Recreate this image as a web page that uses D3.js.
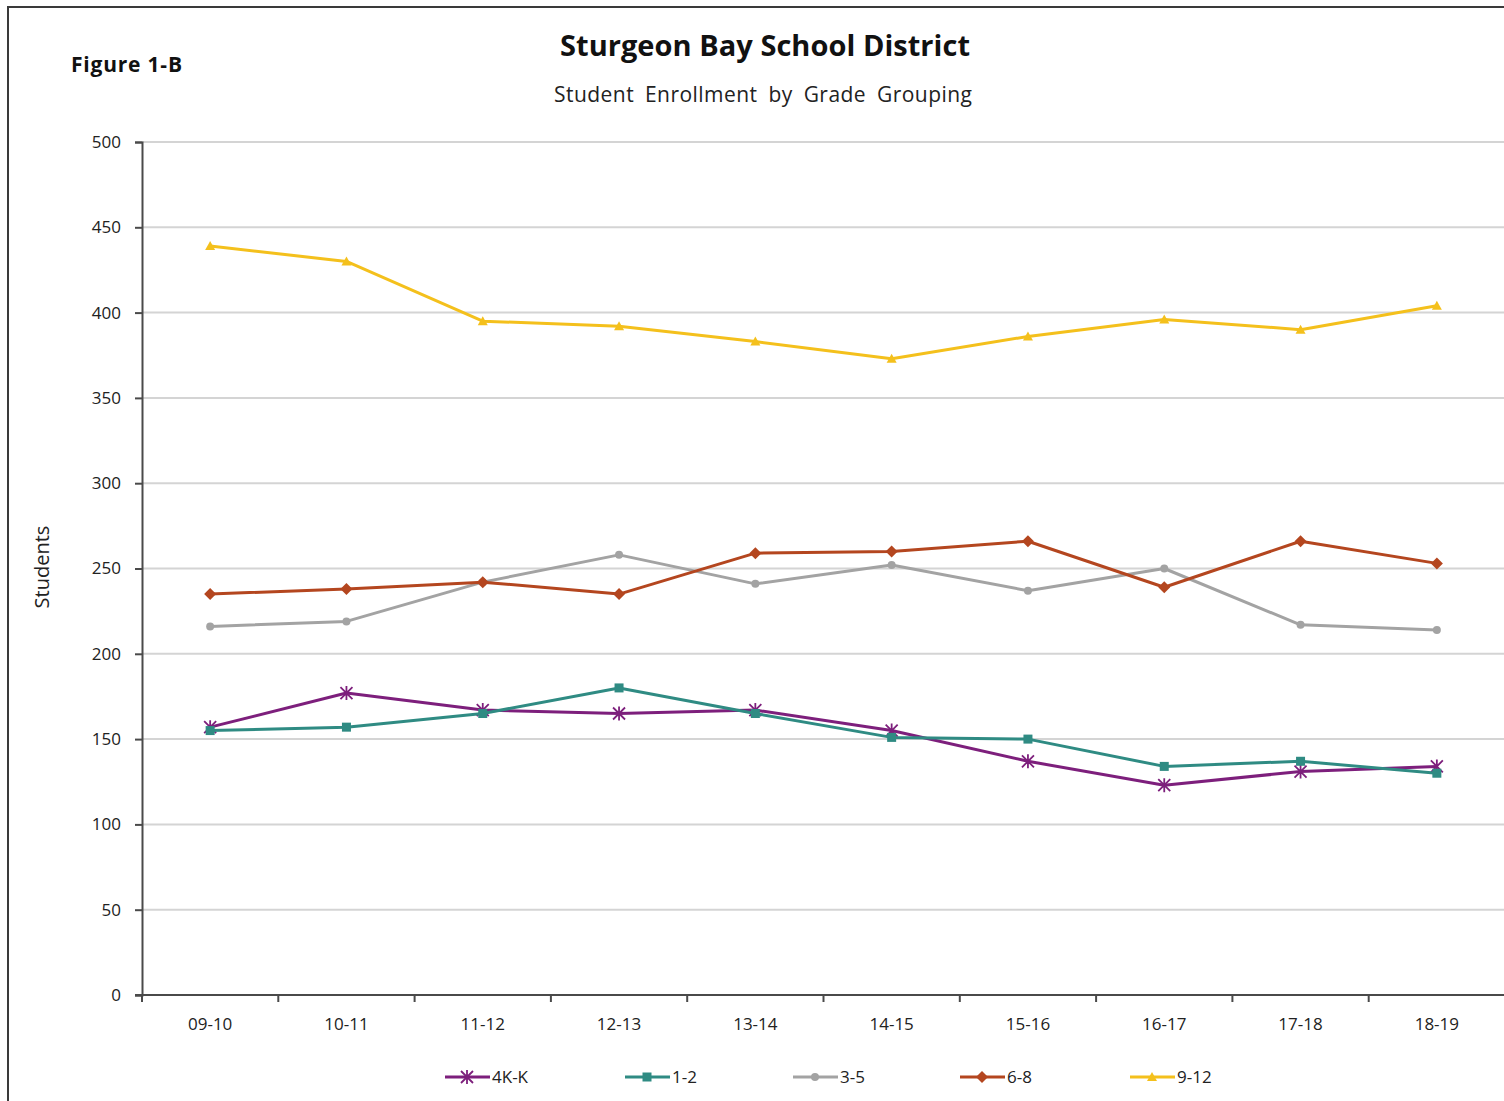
<!DOCTYPE html>
<html>
<head>
  <meta charset="utf-8" />
  <script src="https://d3js.org/d3.v7.min.js"></script>
  <style>
    body { margin: 0; background: #fff; font-family: "Open Sans", "Noto Sans", sans-serif; }
    svg { display: block; }
  </style>
</head>
<body>
  <script>
    var years = ["09-10", "10-11", "11-12", "12-13", "13-14", "14-15", "15-16", "16-17", "17-18", "18-19"];
    var yTicks = [0, 50, 100, 150, 200, 250, 300, 350, 400, 450, 500];

    var grade4KK = [157, 177, 167, 165, 167, 155, 137, 123, 131, 134];
    var grade1to2 = [155, 157, 165, 180, 165, 151, 150, 134, 137, 130];
    var grade3to5 = [216, 219, 242, 258, 241, 252, 237, 250, 217, 214];
    var grade6to8 = [235, 238, 242, 235, 259, 260, 266, 239, 266, 253];
    var grade9to12 = [439, 430, 395, 392, 383, 373, 386, 396, 390, 404];

    var series = [
      { name: "4K-K", values: grade4KK, color: "#7d1f7c", marker: "star" },
      { name: "1-2", values: grade1to2, color: "#2f8b83", marker: "square" },
      { name: "3-5", values: grade3to5, color: "#a3a3a3", marker: "circle" },
      { name: "6-8", values: grade6to8, color: "#b4461f", marker: "diamond" },
      { name: "9-12", values: grade9to12, color: "#f4c01c", marker: "triangle" }
    ];

    var W = 1504, H = 1101;
    var margin = { top: 142, right: -1, bottom: 106, left: 142 };
    var width = W - margin.left - margin.right;
    var height = H - margin.top - margin.bottom;

    var svg = d3.select("body").append("svg")
      .attr("width", W)
      .attr("height", H);

    // outer frame, runs off the right and bottom edge
    svg.append("rect")
      .attr("x", 8).attr("y", 7)
      .attr("width", W + 20).attr("height", H + 20)
      .attr("fill", "none")
      .attr("stroke", "#3a3a3a")
      .attr("stroke-width", 2);

    svg.append("text")
      .attr("x", 71).attr("y", 72)
      .attr("font-size", 21).attr("font-weight", "bold")
      .attr("fill", "#111")
      .attr("textLength", 111)
      .text("Figure 1-B");

    svg.append("text")
      .attr("x", 765).attr("y", 56)
      .attr("text-anchor", "middle")
      .attr("font-size", 29).attr("font-weight", "bold")
      .attr("fill", "#111")
      .attr("textLength", 410)
      .text("Sturgeon Bay School District");

    svg.append("text")
      .attr("x", 763).attr("y", 102)
      .attr("text-anchor", "middle")
      .attr("font-size", 21)
      .attr("fill", "#222")
      .attr("word-spacing", 5)
      .attr("textLength", 418)
      .text("Student Enrollment by Grade Grouping");

    var g = svg.append("g")
      .attr("transform", `translate(${margin.left} ${margin.top})`);

    var x = d3.scaleBand().domain(years).range([0, width]);
    var y = d3.scaleLinear().domain([0, 500]).range([height, 0]);

    // grid
    g.append("g")
      .selectAll("line")
      .data(yTicks.slice(1))
      .enter().append("line")
      .attr("x1", 0).attr("x2", width)
      .attr("y1", function(d) { return y(d); })
      .attr("y2", function(d) { return y(d); })
      .attr("stroke", "#d4d4d4")
      .attr("stroke-width", 2);

    var yAxis = d3.axisLeft(y).tickValues(yTicks).tickSize(7).tickPadding(14);
    var yG = g.append("g").call(yAxis);
    yG.select(".domain").attr("stroke", "#4a4a4a").attr("stroke-width", 2);
    yG.selectAll(".tick line").attr("stroke", "#4a4a4a").attr("stroke-width", 2);
    yG.selectAll(".tick text")
      .attr("font-size", 17)
      .attr("font-family", "'Open Sans', sans-serif")
      .attr("fill", "#222");

    // x axis: ticks on category boundaries
    var xG = g.append("g").attr("transform", `translate(0 ${height})`);
    xG.append("line")
      .attr("x1", -7).attr("x2", width)
      .attr("stroke", "#4a4a4a").attr("stroke-width", 2);
    xG.selectAll(".bound")
      .data(years)
      .enter().append("line")
      .attr("x1", function(d) { return x(d); })
      .attr("x2", function(d) { return x(d); })
      .attr("y1", 0).attr("y2", 7)
      .attr("stroke", "#4a4a4a").attr("stroke-width", 2);
    xG.selectAll(".lab")
      .data(years)
      .enter().append("text")
      .attr("x", function(d) { return x(d) + x.bandwidth() / 2; })
      .attr("y", 35)
      .attr("text-anchor", "middle")
      .attr("font-size", 17)
      .attr("fill", "#222")
      .text(function(d) { return d; });

    svg.append("text")
      .attr("transform", "translate(49 567) rotate(-90)")
      .attr("text-anchor", "middle")
      .attr("font-size", 20)
      .attr("fill", "#222")
      .text("Students");

    function drawMarker(sel, type, color) {
      if (type === "star") {
        sel.append("path")
          .attr("d", "M-6,-6L6,6M-6,6L6,-6M0,-7L0,7")
          .attr("stroke", color).attr("stroke-width", 1.8).attr("fill", "none");
      } else if (type === "square") {
        sel.append("rect")
          .attr("x", -4.5).attr("y", -4.5).attr("width", 9).attr("height", 9)
          .attr("fill", color);
      } else if (type === "circle") {
        sel.append("circle").attr("r", 4).attr("fill", color);
      } else if (type === "diamond") {
        sel.append("path").attr("d", "M0,-6L6,0L0,6L-6,0Z").attr("fill", color);
      } else if (type === "triangle") {
        sel.append("path").attr("d", "M0,-5L5,4L-5,4Z").attr("fill", color);
      }
    }

    var line = d3.line()
      .x(function(d, i) { return x(years[i]) + x.bandwidth() / 2; })
      .y(function(d) { return y(d); });

    series.forEach(function(s) {
      var sg = g.append("g");
      sg.append("path")
        .attr("d", line(s.values))
        .attr("fill", "none")
        .attr("stroke", s.color)
        .attr("stroke-width", 3)
        .attr("stroke-linejoin", "round");
      s.values.forEach(function(v, i) {
        var m = sg.append("g")
          .attr("transform", `translate(${x(years[i]) + x.bandwidth() / 2} ${y(v)})`);
        drawMarker(m, s.marker, s.color);
      });
    });

    // legend
    var legendX = [445, 625, 793, 960, 1130];
    var legend = svg.selectAll(".legend")
      .data(series)
      .enter().append("g")
      .attr("transform", function(d, i) { return `translate(${legendX[i]} 1077)`; });
    legend.append("line")
      .attr("x1", 0).attr("x2", 45)
      .attr("stroke", function(d) { return d.color; })
      .attr("stroke-width", 3);
    legend.each(function(d) {
      var m = d3.select(this).append("g").attr("transform", "translate(22 0)");
      drawMarker(m, d.marker, d.color);
    });
    legend.append("text")
      .attr("x", 47).attr("y", 6)
      .attr("font-size", 17)
      .attr("fill", "#222")
      .text(function(d) { return d.name; });
  </script>
</body>
</html>
